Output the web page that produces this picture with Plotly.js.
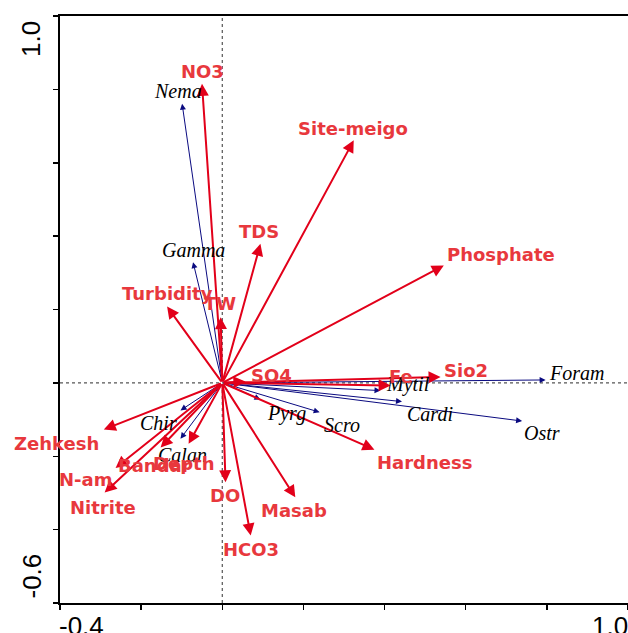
<!DOCTYPE html>
<html><head><meta charset="utf-8">
<script src="https://cdn.plot.ly/plotly-3.0.1.min.js"></script>
<style>html,body{margin:0;padding:0;background:#fff;} #chart{width:628px;height:633px;}</style>
</head><body><div id="chart"></div>
<script>
// Environmental variables (red arrows): tip coordinates
const envNames = ['NO3','Site-meigo','Phosphate','TDS','Turbidity','TW','SO4','Fe','Sio2','Hardness','Masab','HCO3','DO','Zehkesh','N-am','Nitrite','Bandar','Depth'];
const envX = [-0.050, 0.324, 0.546, 0.094, -0.136, -0.004, 0.057, 0.415, 0.538, 0.375, 0.180, 0.070, 0.008, -0.292, -0.263, -0.290, -0.152, -0.083];
const envY = [0.815, 0.661, 0.320, 0.379, 0.208, 0.179, 0.004, -0.007, 0.016, -0.182, -0.312, -0.416, -0.271, -0.127, -0.232, -0.299, -0.176, -0.166];

// Species (blue arrows): tip coordinates
const sppNames = ['Nema','Gamma','Foram','Ostr','Cardi','Mytil','Scro','Pyrg','Chir','Calan'];
const sppX = [-0.099, -0.072, 0.797, 0.739, 0.443, 0.390, 0.240, 0.094, -0.103, -0.103];
const sppY = [0.761, 0.329, 0.008, -0.104, -0.051, -0.021, -0.080, -0.045, -0.075, -0.152];

// Axis end labels
const xTickVals = [-0.4, 1.0];
const xTickText = ['-0.4', '1.0'];
const yTickVals = [-0.6, 1.0];
const yTickText = ['-0.6', '1.0'];

// Label placement offsets (pixels, relative to arrow tip)
const envLabelDx = [0, -1, 57, -1, 0, -1, 26, 10, 25, 50, -1, 0, -1, -47, -30, -2, -6, -5];
const envLabelDy = [12, 12, 11, 12, 13, 14, 6, 9, 7, -13, -13, -14, -13, -14, -12, -15, -18, -20];
const sppLabelDx = [-4, 0, 31, 20, 28, 27, 22, 26, -22, 2];
const sppLabelDy = [13, 12, 7, -12, -12, 6, -13, -14, -13, -16];

const RED_LINE = '#e2001a';
const RED_TEXT = '#e8383d';
const BLUE = '#0a0a80';

const annotations = [];
// blue arrows first (underneath)
sppNames.forEach((n, i) => {
  annotations.push({x: sppX[i], y: sppY[i], ax: 0, ay: 0, xref: 'x', yref: 'y', axref: 'x', ayref: 'y',
    text: '', showarrow: true, arrowhead: 2, arrowsize: 1.2, arrowwidth: 1, arrowcolor: BLUE, standoff: 0});
});
envNames.forEach((n, i) => {
  annotations.push({x: envX[i], y: envY[i], ax: 0, ay: 0, xref: 'x', yref: 'y', axref: 'x', ayref: 'y',
    text: '', showarrow: true, arrowhead: 2, arrowsize: 1.2, arrowwidth: 2, arrowcolor: RED_LINE, standoff: 0});
});
sppNames.forEach((n, i) => {
  annotations.push({x: sppX[i], y: sppY[i], xref: 'x', yref: 'y', text: n, showarrow: false,
    xshift: sppLabelDx[i], yshift: sppLabelDy[i], xanchor: 'center', yanchor: 'middle',
    font: {family: 'Liberation Serif', size: 20, style: 'italic', color: '#000'}});
});
envNames.forEach((n, i) => {
  annotations.push({x: envX[i], y: envY[i], xref: 'x', yref: 'y', text: n, showarrow: false,
    xshift: envLabelDx[i], yshift: envLabelDy[i], xanchor: 'center', yanchor: 'middle',
    font: {family: 'DejaVu Sans', size: 18, weight: 'bold', color: RED_TEXT}});
});
// axis end labels
const tickFont = {family: 'Liberation Sans', size: 26, color: '#000'};
annotations.push({x: xTickVals[0], y: 0, xref: 'x', yref: 'paper', text: xTickText[0], showarrow: false,
  xanchor: 'left', yanchor: 'top', yshift: -6, xshift: -3, font: tickFont});
annotations.push({x: xTickVals[1], y: 0, xref: 'x', yref: 'paper', text: xTickText[1], showarrow: false,
  xanchor: 'right', yanchor: 'top', yshift: -6, xshift: 2, font: tickFont});
annotations.push({x: 0, y: yTickVals[0], xref: 'paper', yref: 'y', text: yTickText[0], showarrow: false,
  xanchor: 'right', yanchor: 'bottom', xshift: -12, yshift: 2, textangle: -90, font: tickFont});
annotations.push({x: 0, y: yTickVals[1], xref: 'paper', yref: 'y', text: yTickText[1], showarrow: false,
  xanchor: 'right', yanchor: 'top', xshift: -12, yshift: -3, textangle: -90, font: tickFont});

const layout = {
  width: 628, height: 633,
  margin: {l: 60, r: 0, t: 16, b: 30},
  paper_bgcolor: '#fff', plot_bgcolor: '#fff',
  showlegend: false,
  xaxis: {range: [-0.4, 1.0], tick0: -0.4, dtick: 0.2, ticks: 'outside', ticklen: 5, tickwidth: 1.5, tickcolor: '#000',
    showticklabels: false, showgrid: false, zeroline: false, showline: true, linewidth: 2, linecolor: '#000', mirror: true, fixedrange: true},
  yaxis: {range: [-0.6, 1.0], tick0: -0.6, dtick: 0.2, ticks: 'outside', ticklen: 5, tickwidth: 1.5, tickcolor: '#000',
    showticklabels: false, showgrid: false, zeroline: false, showline: true, linewidth: 2, linecolor: '#000', mirror: false, fixedrange: true},
  shapes: [
    {type: 'line', xref: 'x', yref: 'paper', x0: 0, x1: 0, y0: 0, y1: 1, line: {color: '#555', width: 1.2, dash: 'dot'}, layer: 'below'},
    {type: 'line', xref: 'paper', yref: 'y', x0: 0, x1: 1, y0: 0, y1: 0, line: {color: '#555', width: 1.2, dash: 'dot'}, layer: 'below'}
  ],
  annotations: annotations
};

const traces = [
  {x: envX, y: envY, type: 'scatter', mode: 'markers', marker: {size: 1, opacity: 0}, hoverinfo: 'skip'},
  {x: sppX, y: sppY, type: 'scatter', mode: 'markers', marker: {size: 1, opacity: 0}, hoverinfo: 'skip'}
];

Plotly.newPlot('chart', traces, layout, {displayModeBar: false, staticPlot: true});
</script>
</body></html>
